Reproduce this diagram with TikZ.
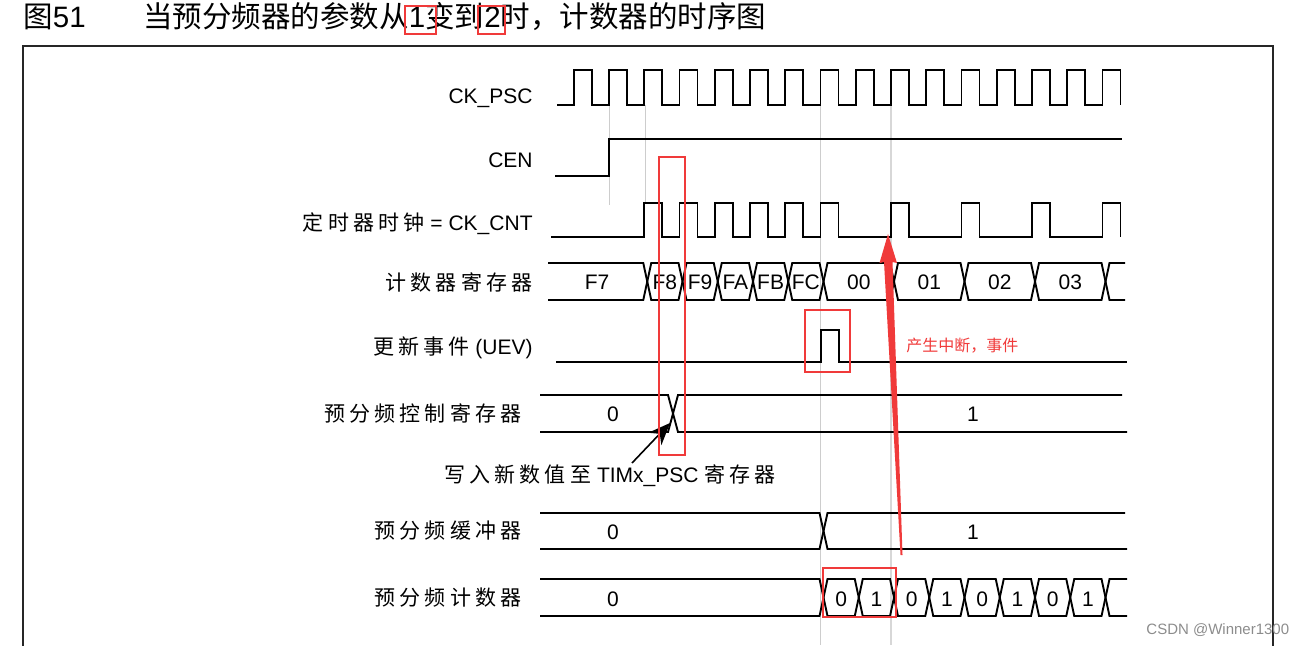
\documentclass[tikz,border=0pt]{standalone}
\usepackage{fontspec}
\setmainfont{Liberation Sans}
\newfontfamily\cjk{Noto Sans CJK SC}
\newfontfamily\cjksp[LetterSpace=20]{Noto Sans CJK SC}
\usetikzlibrary{arrows.meta}
\definecolor{markred}{RGB}{240, 58, 58}
\definecolor{guidegray}{RGB}{205, 205, 205}

\begin{document}
\begin{tikzpicture}[x=0.5pt,y=-0.5pt,
    wave/.style={line width=0.95pt, black, line join=miter},
    guide/.style={guidegray, line width=0.5pt},
    sig/.style={anchor=east, inner sep=0pt, font=\fontsize{10.5}{12}\selectfont},
    val/.style={inner sep=0pt, font=\fontsize{10.5}{12}\selectfont},
    redbox/.style={draw=markred, line width=0.6pt}]
  \useasboundingbox (0,0) rectangle (1309,645);

  % title and frame
  \node[anchor=west, inner sep=0pt, font=\fontsize{14.75}{16}\selectfont] (fig) at (23,17) {{\cjk 图}51};
  \node[anchor=west, inner sep=0pt, font=\fontsize{14.75}{16}\selectfont] (title) at (143,17)
    {{\cjk 当预分频器的参数从}1{\cjk 变到}2{\cjk 时，计数器的时序图}};
  \draw[redbox] (405,6) rectangle (436,34);
  \draw[redbox] (478,6) rectangle (505,34);
  \draw[line width=1pt, black!85] (23,648) -- (23,46) -- (1273,46) -- (1273,648);

  % guide lines
  \draw[guide] (609,105) -- (609,205);
  \draw[guide] (645,105) -- (645,203);
  \draw[guide] (820,105) -- (820,645);
  \draw[guide, line width=1pt, guidegray!80] (891,105) -- (891,645);

  % signal names
  \node[sig] (psc) at (533,98) {CK\_PSC};
  \node[sig] (cen) at (533,160) {CEN};
  \node[sig] (cnt) at (533,224) {{\cjksp 定时器时钟} = CK\_CNT};
  \node[sig] (reg) at (533,282) {\cjksp 计数器寄存器};
  \node[sig] (uev) at (533,348) {{\cjksp 更新事件} (UEV)};
  \node[sig] (ctl) at (522,413) {\cjksp 预分频控制寄存器};
  \node[sig] (buf) at (522,531) {\cjksp 预分频缓冲器};
  \node[sig] (div) at (522,598) {\cjksp 预分频计数器};
  \node[val] (note) at (610,476) {{\cjksp 写入新数值至} TIMx\_PSC {\cjksp 寄存器}};

  % CK_PSC and CEN
  \draw[wave] (557,105) \foreach \k in {0,...,15} {
      -- ({573.75+35.25*\k},105) -- ({573.75+35.25*\k},70)
      -- ({591.75+35.25*\k},70) -- ({591.75+35.25*\k},105)};
  \draw[wave] (555,176) -- (609,176) -- (609,139) -- (1122,139);

  % CK_CNT
  \draw[wave] (551,237) \foreach \k in {2,...,7,9,11,13,15} {
      -- ({573.75+35.25*\k},237) -- ({573.75+35.25*\k},203)
      -- ({591.75+35.25*\k},203) -- ({591.75+35.25*\k},237)};

  % counter register
  \draw[wave] (548,263) -- (643.25,263) -- (647.25,281.5) -- (643.25,300) -- (548,300);
  \node[val] (reg-F7) at (597,282) {F7};
  \foreach \a/\b/\v in {647.25/682.5/F8, 682.5/717.75/F9, 717.75/753/FA, 753/788.25/FB,
      788.25/823.5/FC, 823.5/894/00, 894/964.5/01, 964.5/1035/02, 1035/1105.5/03} {
    \draw[wave] (\a,281.5) -- (\a+4,263) -- (\b-4,263) -- (\b,281.5) -- (\b-4,300) -- (\a+4,300) -- cycle;
    \node[val] (reg-\v) at ({(\a+\b)/2},282) {\v};
  }
  \draw[wave] (1125,263) -- (1109.5,263) -- (1105.5,281.5) -- (1109.5,300) -- (1125,300);

  % update event
  \draw[wave] (556,362) -- (821,362) -- (821,330) -- (839,330) -- (839,362) -- (1127,362);

  % prescaler control register
  \draw[wave] (540,395) -- (668,395) -- (673,413.5) -- (668,432) -- (540,432);
  \draw[wave] (1122,395) -- (678,395) -- (673,413.5) -- (678,432) -- (1127,432);
  \node[val] (ctl-0) at (613,414) {0};
  \node[val] (ctl-1) at (973,414) {1};

  % prescaler buffer
  \draw[wave] (540,513) -- (819.5,513) -- (823.5,531) -- (819.5,549) -- (540,549);
  \draw[wave] (1125,513) -- (827.5,513) -- (823.5,531) -- (827.5,549) -- (1127,549);
  \node[val] (buf-0) at (613,532) {0};
  \node[val] (buf-1) at (973,532) {1};

  % prescaler counter
  \draw[wave] (540,579) -- (819.5,579) -- (823.5,597.5) -- (819.5,616) -- (540,616);
  \node[val] (div-0) at (613,599) {0};
  \foreach \a/\b/\v [count=\i] in {823.5/858.75/0, 858.75/894/1, 894/929.25/0, 929.25/964.5/1,
      964.5/999.75/0, 999.75/1035/1, 1035/1070.25/0, 1070.25/1105.5/1} {
    \draw[wave] (\a,597.5) -- (\a+4,579) -- (\b-4,579) -- (\b,597.5) -- (\b-4,616) -- (\a+4,616) -- cycle;
    \node[val] (div-\i) at ({(\a+\b)/2},599) {\v};
  }
  \draw[wave] (1127,579) -- (1109.5,579) -- (1105.5,597.5) -- (1109.5,616) -- (1127,616);

  % write marker
  \coordinate (wrtail) at (632,463);
  \coordinate (wrtip) at (670,423);
  \draw[line width=0.8pt, -{Stealth[length=11pt, width=9pt]}] (wrtail) -- (wrtip);

  % red notes
  \draw[redbox] (659,157) rectangle (685,455);
  \draw[redbox] (805,310) rectangle (850,372);
  \draw[redbox] (823,568) rectangle (896,617);
  \fill[markred] (888,234) -- (897,263) -- (892.5,262) -- (902.5,555) -- (900.5,555)
    -- (884,262) -- (879.5,263) -- cycle;
  \node[anchor=west, inner sep=0pt, text=markred, font=\fontsize{8}{9}\selectfont] (irq) at (906,346)
    {\cjk 产生中断，事件};

  \node[anchor=west, inner sep=0pt, text=black!45, font=\fontsize{7.5}{9}\selectfont] (mark) at (1146,630)
    {CSDN @Winner1300};
\end{tikzpicture}
\end{document}
